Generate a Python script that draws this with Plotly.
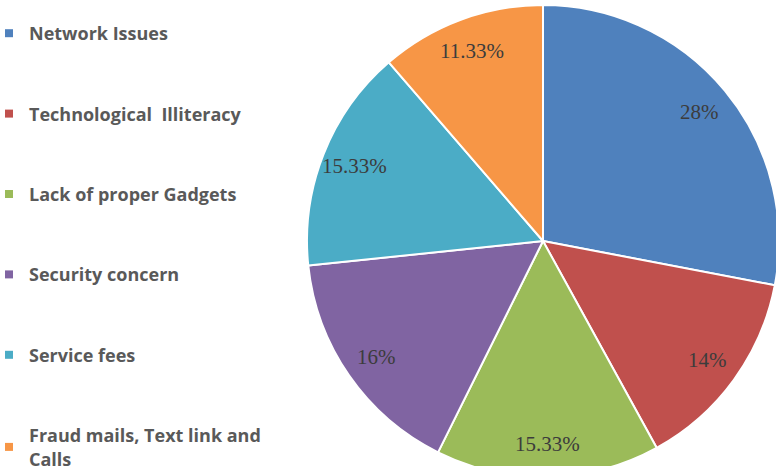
import math
import plotly.graph_objects as go

categories = ["Network Issues", "Technological  Illiteracy", "Lack of proper Gadgets",
              "Security concern", "Service fees", "Fraud mails, Text link and<br>Calls"]
values = [28, 14, 15.33, 16, 15.33, 11.33]
colors = ["#4F81BD", "#C0504D", "#9BBB59", "#8064A2", "#4BACC6", "#F79646"]
labels = [f"{v:g}%" for v in values]

W, H = 780, 477          # figure is slightly larger than the window; pie is cropped like the reference
CX, CY, R = 543, 241, 236  # pie centre / radius in pixels (layout)

fig = go.Figure()
fig.add_trace(go.Pie(
    labels=categories, values=values, textinfo="none",
    sort=False, direction="clockwise", rotation=0,
    marker=dict(colors=colors, line=dict(color="white", width=2)),
    showlegend=False, hoverinfo="label+percent",
    domain=dict(x=[(CX - R) / W, (CX + R) / W], y=[(H - CY - R) / H, (H - CY + R) / H]),
))
for name, c in zip(categories, colors):
    fig.add_trace(go.Scatter(x=[None], y=[None], mode="markers", name=name,
                             legendgroup=name,
                             marker=dict(symbol="square", size=8, color=c)))

# percentage labels placed near the outer part of each slice
total = sum(values)
cum = 0
for v, t in zip(values, labels):
    mid = (cum + v / 2) / total * 2 * math.pi
    cum += v
    d = 0.86 * R
    fig.add_annotation(
        x=(CX + d * math.sin(mid)) / W, y=(H - CY + d * math.cos(mid)) / H,
        xref="paper", yref="paper", xanchor="center", yanchor="middle",
        text=t, showarrow=False,
        font=dict(family="Liberation Serif", size=21, color="#3c3c3c"),
    )

fig.update_layout(
    width=W, height=H, margin=dict(l=0, r=0, t=0, b=0),
    paper_bgcolor="white", plot_bgcolor="white",
    xaxis=dict(visible=False), yaxis=dict(visible=False),
    legend=dict(x=0, xanchor="left", y=1 - 24 / H, yanchor="top",
                tracegroupgap=54, itemclick=False, maxheight=1000, indentation=-11,
                font=dict(family="Open Sans", size=18, color="#595959", weight="bold")),
)
fig.write_html("out.html",
               post_script="document.documentElement.style.overflow='hidden';"
                           "document.body.style.overflow='hidden';")
